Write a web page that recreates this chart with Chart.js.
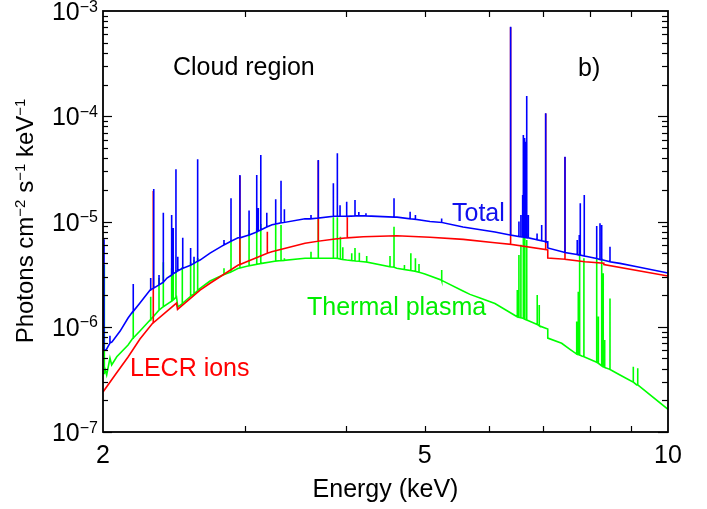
<!DOCTYPE html>
<html>
<head>
<meta charset="utf-8">
<script src="https://cdn.jsdelivr.net/npm/chart.js@4.4.0/dist/chart.umd.min.js"></script>
<style>
  body { margin: 0; background: #fff; }
  canvas { display: block; }
</style>
</head>
<body>
<canvas id="spec" width="707" height="509"></canvas>
<script>
// ---- data (energy in keV, flux in photons cm-2 s-1 keV-1) ----

// Total: continuum, then narrow lines (energy, flux at foot, flux at top)
const totalContE = [2.0, 2.017, 2.052, 2.10, 2.148, 2.178, 2.222, 2.287, 2.40, 2.512, 2.637, 2.713, 2.938,
  3.237, 3.556, 3.873, 4.194, 4.621, 5.076, 5.577, 6.108, 6.376, 6.712, 7.045, 7.10, 7.10, 7.457, 7.716,
  7.939, 8.309, 8.722, 9.155, 10.0];
const totalContF = [6.0e-7, 6.0e-7, 7.17e-7, 9.1e-7, 1.21e-6, 1.40e-6, 1.68e-6, 2.23e-6, 2.9e-6, 3.6e-6, 4.3e-6, 5.0e-6, 7.0e-6,
  9.3e-6, 1.06e-5, 1.12e-5, 1.13e-5, 1.10e-5, 1.00e-5, 8.87e-6, 7.95e-6, 7.44e-6, 7.0e-6, 6.46e-6, 6.4e-6, 5.6e-6, 5.08e-6, 4.86e-6,
  4.65e-6, 4.3e-6, 4.0e-6, 3.72e-6, 3.24e-6];
const totalLineE = [2.006, 2.040, 2.180, 2.291, 2.311, 2.346, 2.375, 2.432, 2.443, 2.462, 2.475, 2.510, 2.567, 2.592, 2.619,
  2.823, 2.880, 2.954, 3.032, 3.099, 3.113, 3.135, 3.189, 3.271, 3.321, 3.353, 3.617, 3.693, 3.855, 3.899, 3.929,
  4.004, 4.100, 4.145, 4.230, 4.582, 4.797, 4.870, 5.248, 6.387, 6.540, 6.577, 6.610, 6.623, 6.646, 6.668, 6.687,
  6.718, 6.887, 6.978, 7.058, 7.457, 7.722, 7.767, 7.789, 7.878, 8.162, 8.239, 8.279, 8.477];
const totalLineBase = [6.0e-7, 7.0e-7, 1.40e-6, 2.25e-6, 2.33e-6, 2.5e-6, 2.65e-6, 3.1e-6, 3.2e-6, 3.3e-6, 3.4e-6, 3.6e-6, 3.85e-6, 4.0e-6, 4.2e-6,
  6.0e-6, 6.5e-6, 7.0e-6, 7.44e-6, 7.95e-6, 8.1e-6, 8.3e-6, 8.87e-6, 9.47e-6, 9.7e-6, 9.8e-6, 1.06e-5, 1.08e-5, 1.12e-5, 1.12e-5, 1.12e-5,
  1.12e-5, 1.13e-5, 1.13e-5, 1.13e-5, 1.10e-5, 1.06e-5, 1.05e-5, 9.8e-6, 7.44e-6, 7.2e-6, 7.15e-6, 7.1e-6, 7.1e-6, 7.05e-6, 7.05e-6, 7.0e-6,
  7.0e-6, 6.7e-6, 6.55e-6, 6.4e-6, 5.08e-6, 4.85e-6, 4.8e-6, 4.8e-6, 4.7e-6, 4.45e-6, 4.35e-6, 4.32e-6, 4.15e-6];
const totalLinePeak = [6.8e-6, 8.2e-7, 2.55e-6, 2.9e-6, 2.04e-5, 3.1e-6, 1.21e-5, 1.15e-5, 8.67e-6, 3.13e-5, 4.63e-6, 7.0e-6, 5.6e-6, 4.63e-6, 3.9e-5,
  6.67e-6, 1.66e-5, 2.77e-5, 1.27e-5, 2.77e-5, 1.34e-5, 4.28e-5, 1.21e-5, 1.63e-5, 2.44e-5, 1.31e-5, 1.15e-5, 3.84e-5, 2.31e-5, 4.45e-5, 1.43e-5,
  1.54e-5, 1.6e-5, 1.23e-5, 1.2e-5, 1.66e-5, 1.24e-5, 1.15e-5, 1.07e-5, 7.09e-4, 1.0e-5, 1.15e-5, 1.79e-5, 6.64e-5, 6.2e-5, 5.73e-5, 1.56e-4,
  1.15e-5, 7.7e-6, 9.26e-6, 1.07e-4, 4.13e-5, 6.67e-6, 7.44e-6, 1.49e-5, 1.79e-5, 9.06e-6, 9.6e-6, 9.26e-6, 5.76e-6];

// LECR ions
const lecrContE = [2.0, 2.070, 2.148, 2.222, 2.306, 2.466, 2.473, 2.637, 2.713, 2.940, 3.234, 3.556, 3.873, 4.198,
  4.617, 5.076, 5.582, 6.108, 6.387, 7.058, 7.10, 7.10, 7.457, 7.894, 8.33, 8.33, 10.0];
const lecrContF = [2.4e-7, 3.48e-7, 5.16e-7, 7.65e-7, 1.09e-6, 1.68e-6, 1.46e-6, 2.23e-6, 2.59e-6, 3.86e-6, 5.17e-6, 6.21e-6, 6.82e-6, 7.17e-6,
  7.33e-6, 7.08e-6, 6.77e-6, 6.29e-6, 6.07e-6, 5.42e-6, 5.38e-6, 4.5e-6, 4.38e-6, 4.15e-6, 4.02e-6, 3.9e-6, 3.03e-6];
const lecrLineE = [2.308, 2.954, 3.194, 3.693, 4.011, 6.387, 7.058, 7.457];
const lecrLineBase = [1.09e-6, 3.9e-6, 5.0e-6, 6.5e-6, 7.0e-6, 6.07e-6, 5.42e-6, 4.38e-6];
const lecrLinePeak = [1.95e-5, 2.7e-5, 8.0e-6, 3.8e-5, 1.1e-5, 7.0e-4, 1.06e-4, 4.1e-5];

// Thermal plasma
const thermContE = [2.0, 2.011, 2.021, 2.040, 2.050, 2.080, 2.148, 2.178, 2.222, 2.287, 2.306, 2.466, 2.475, 2.637,
  2.713, 2.940, 3.144, 3.234, 3.556, 3.873, 4.004, 4.198, 4.617, 5.003, 5.25, 5.577, 5.689, 5.854, 6.108, 6.499,
  6.687, 6.907, 7.10, 7.10, 7.387, 7.564, 7.820, 8.315, 8.722, 9.147, 10.0];
const thermContF = [3.6e-7, 4.17e-7, 3.48e-7, 5.05e-7, 4.33e-7, 5.19e-7, 6.7e-7, 7.8e-7, 9.1e-7, 1.16e-6, 1.24e-6, 1.92e-6, 1.54e-6, 2.31e-6,
  2.72e-6, 3.59e-6, 4.0e-6, 4.15e-6, 4.47e-6, 4.47e-6, 4.3e-6, 4.15e-6, 3.6e-6, 3.17e-6, 2.76e-6, 2.19e-6, 2.03e-6, 1.88e-6, 1.66e-6, 1.25e-6,
  1.16e-6, 1.04e-6, 9.5e-7, 7.8e-7, 6.96e-7, 6.1e-7, 5.27e-7, 4.17e-7, 3.48e-7, 2.8e-7, 1.64e-7];
const thermLineE = [2.006, 2.180, 2.291, 2.346, 2.375, 2.432, 2.443, 2.462, 2.507, 2.567, 2.592, 2.619, 2.823, 2.880, 2.954,
  3.032, 3.099, 3.135, 3.271, 3.321, 3.353, 3.617, 3.693, 3.855, 3.899, 3.933, 3.960, 4.062, 4.100, 4.151, 4.239,
  4.53, 4.582, 4.72, 4.807, 4.870, 4.92, 5.248, 6.51, 6.540, 6.577, 6.623, 6.65, 6.687, 6.89, 6.93,
  7.71, 7.745, 7.767, 7.78, 7.87, 8.162, 8.201, 8.279, 8.315, 8.35, 8.477, 9.059, 9.174];
const thermLineBase = [3.6e-7, 7.8e-7, 1.17e-6, 1.44e-6, 1.55e-6, 1.75e-6, 1.8e-6, 1.9e-6, 1.66e-6, 1.95e-6, 2.05e-6, 2.2e-6, 3.13e-6, 3.32e-6, 3.62e-6,
  3.8e-6, 3.92e-6, 3.98e-6, 4.2e-6, 4.25e-6, 4.27e-6, 4.47e-6, 4.47e-6, 4.47e-6, 4.46e-6, 4.4e-6, 4.35e-6, 4.25e-6, 4.22e-6, 4.19e-6, 4.12e-6,
  3.72e-6, 3.68e-6, 3.5e-6, 3.42e-6, 3.36e-6, 3.3e-6, 2.77e-6, 1.24e-6, 1.23e-6, 1.22e-6, 1.2e-6, 1.18e-6, 1.16e-6, 1.05e-6, 1.02e-6,
  5.5e-7, 5.45e-7, 5.4e-7, 5.38e-7, 5.2e-7, 4.6e-7, 4.5e-7, 4.25e-7, 4.17e-7, 4.1e-7, 3.93e-7, 2.98e-7, 2.8e-7];
const thermLinePeak = [3.86e-6, 1.39e-6, 1.93e-6, 2.9e-6, 4.1e-6, 3.6e-6, 4.8e-6, 3.46e-6, 3.7e-6, 4.1e-6, 4.3e-6, 4.5e-6, 3.59e-6, 6.67e-6, 7.17e-6,
  8.3e-6, 8.62e-6, 9.47e-6, 9.26e-6, 9.26e-6, 4.47e-6, 5.17e-6, 1.07e-5, 1.1e-5, 1.1e-5, 7.17e-6, 5.69e-6, 4.99e-6, 5.6e-6, 5.06e-6, 4.7e-6,
  4.7e-6, 8.92e-6, 3.86e-6, 4.99e-6, 4.47e-6, 3.94e-6, 3.46e-6, 2.23e-6, 4.8e-6, 6.0e-6, 7.0e-6, 7.0e-6, 6.67e-6, 2.0e-6, 1.61e-6,
  1.12e-6, 2.15e-6, 5.0e-6, 3.22e-6, 4.47e-6, 4.47e-6, 1.25e-6, 4.47e-6, 3.22e-6, 7.48e-7, 1.86e-6, 4.17e-7, 4.04e-7];

// axes
const xTickLabels = [2, 5, 10];
const xMinorTicks = [3, 4, 6, 7, 8, 9];
const yTickExps = [-3, -4, -5, -6, -7];

const FONT = "'Liberation Sans', Arial, Helvetica, sans-serif";

function buildSeries(contE, contF, lineE, lineBase, linePeak) {
  const pts = contE.map((e, i) => ({ x: e, y: contF[i] }));
  lineE.forEach((e, i) => {
    pts.push({ x: e, y: lineBase[i] }, { x: e, y: linePeak[i] }, { x: e, y: lineBase[i] });
  });
  return pts.sort((a, b) => a.x - b.x);
}

// draws the frame, inward ticks, tick labels, titles and curve labels
const framePlugin = {
  id: 'frame',
  afterDraw(chart) {
    const { ctx, chartArea: a, scales: { x, y } } = chart;
    const seg = (x0, y0, x1, y1) => { ctx.beginPath(); ctx.moveTo(x0, y0); ctx.lineTo(x1, y1); ctx.stroke(); };
    ctx.save();
    ctx.strokeStyle = '#000';
    ctx.fillStyle = '#000';

    ctx.lineWidth = 1.2;
    for (let k = -7; k < -3; k++) {
      for (let m = 1; m < 10; m++) {
        const py = Math.round(y.getPixelForValue(m * Math.pow(10, k))) + 0.5;
        const len = m === 1 ? 9 : 5;
        seg(a.left, py, a.left + len, py);
        seg(a.right, py, a.right - (m === 1 ? 10 : 6), py);
      }
    }
    xMinorTicks.concat([5]).forEach(e => {
      const px = Math.round(x.getPixelForValue(e)) + 0.5;
      seg(px, a.bottom, px, a.bottom - 6);
      seg(px, a.top, px, a.top + 6);
    });

    ctx.lineWidth = 1.8;
    ctx.strokeRect(a.left, a.top, a.right - a.left, a.bottom - a.top);

    // y tick labels 10^n
    ctx.textBaseline = 'alphabetic';
    yTickExps.forEach(n => {
      const py = y.getPixelForValue(Math.pow(10, n));
      const sup = '\u2212' + Math.abs(n);
      ctx.font = '16px ' + FONT;
      const sw = ctx.measureText(sup).width;
      ctx.textAlign = 'left';
      ctx.fillText(sup, a.left - 5 - sw, py + 0.5);
      ctx.font = '25px ' + FONT;
      ctx.textAlign = 'right';
      ctx.fillText('10', a.left - 5 - sw, py + 9);
    });

    // x tick labels
    ctx.font = '25px ' + FONT;
    ctx.textAlign = 'center';
    xTickLabels.forEach(e => ctx.fillText(String(e), x.getPixelForValue(e), 463));
    ctx.fillText('Energy (keV)', (a.left + a.right) / 2, 497);

    // y title with superscripts
    const parts = [['Photons cm', 0], ['\u22122', 1], [' s', 0], ['\u22121', 1], [' keV', 0], ['\u22121', 1]];
    ctx.save();
    ctx.translate(33, 221);
    ctx.rotate(-Math.PI / 2);
    let total = 0;
    parts.forEach(([t, s]) => { ctx.font = (s ? '15px ' : '24px ') + FONT; total += ctx.measureText(t).width; });
    let cx = -total / 2;
    ctx.textAlign = 'left';
    parts.forEach(([t, s]) => {
      ctx.font = (s ? '15px ' : '24px ') + FONT;
      ctx.fillText(t, cx, s ? -8 : 0);
      cx += ctx.measureText(t).width;
    });
    ctx.restore();

    // in-plot labels
    ctx.font = '25px ' + FONT;
    ctx.textAlign = 'left';
    ctx.fillStyle = '#000';
    ctx.fillText('Cloud region', 173, 75);
    ctx.fillText('b)', 578, 76);
    ctx.fillStyle = '#1010ee';
    ctx.fillText('Total', 452, 221);
    ctx.fillStyle = '#00ee00';
    ctx.fillText('Thermal plasma', 307, 315);
    ctx.fillStyle = '#ff0000';
    ctx.fillText('LECR ions', 130, 376);
    ctx.restore();
  }
};

new Chart(document.getElementById('spec'), {
  type: 'line',
  data: {
    datasets: [
      { label: 'Total', data: buildSeries(totalContE, totalContF, totalLineE, totalLineBase, totalLinePeak), borderColor: '#0000ff' },
      { label: 'LECR ions', data: buildSeries(lecrContE, lecrContF, lecrLineE, lecrLineBase, lecrLinePeak), borderColor: '#ff0000' },
      { label: 'Thermal plasma', data: buildSeries(thermContE, thermContF, thermLineE, thermLineBase, thermLinePeak), borderColor: '#00ff00' }
    ]
  },
  options: {
    responsive: false,
    animation: false,
    events: [],
    layout: { padding: { left: 103, right: 39, top: 11, bottom: 77 } },
    elements: {
      point: { radius: 0 },
      line: { borderWidth: 1.6, tension: 0, fill: false }
    },
    scales: {
      x: { type: 'logarithmic', min: 2, max: 10, display: false },
      y: { type: 'logarithmic', min: 1e-7, max: 1e-3, display: false }
    },
    plugins: { legend: { display: false }, tooltip: { enabled: false } }
  },
  plugins: [framePlugin]
});
</script>
</body>
</html>
